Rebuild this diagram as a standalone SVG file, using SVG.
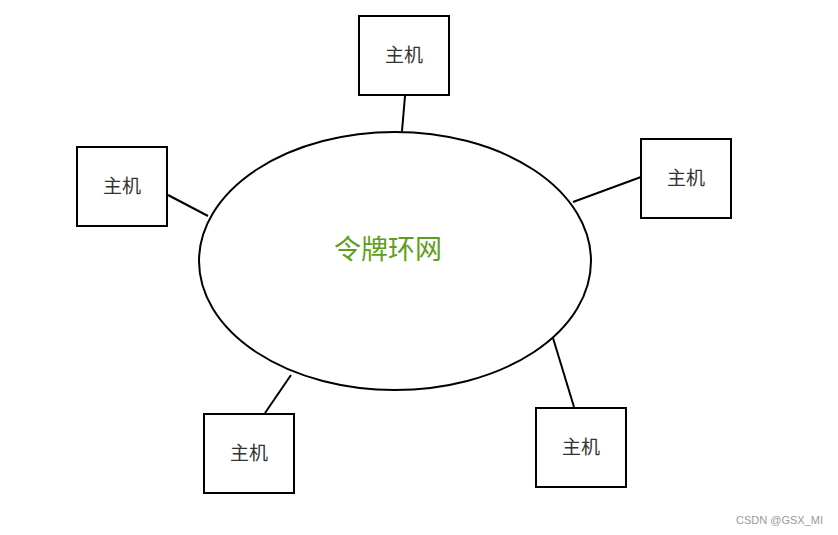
<svg xmlns="http://www.w3.org/2000/svg" width="838" height="535" viewBox="0 0 838 535">
<style>
.box{fill:#fff;stroke:#000;stroke-width:2}
.lbl{font-family:"Noto Sans CJK SC","Liberation Sans",sans-serif;font-size:19px;fill:#333;text-anchor:middle;dominant-baseline:central}
.con line{stroke:#000;stroke-width:2}
</style>
<rect width="838" height="535" fill="#fff"/>
<g id="ring">
<ellipse cx="395" cy="261" rx="196" ry="129" fill="#fff" stroke="#000" stroke-width="2"/>
<text x="388" y="247" font-family="'Noto Sans CJK SC','Liberation Sans',sans-serif" font-size="27" fill="#5f9e1a" text-anchor="middle" dominant-baseline="central">令牌环网</text>
</g>
<g id="connectors" class="con">
<line x1="405" y1="96" x2="402" y2="131"/>
<line x1="168" y1="195" x2="208" y2="216"/>
<line x1="573" y1="202" x2="641" y2="177"/>
<line x1="265" y1="413" x2="291" y2="375"/>
<line x1="574" y1="407" x2="553" y2="338"/>
</g>
<g id="host-top"><rect class="box" x="359" y="16" width="90" height="79"/><text class="lbl" x="404" y="53">主机</text></g>
<g id="host-left"><rect class="box" x="77" y="147" width="90" height="79"/><text class="lbl" x="122" y="184">主机</text></g>
<g id="host-right"><rect class="box" x="641" y="139" width="90" height="79"/><text class="lbl" x="686" y="176">主机</text></g>
<g id="host-bl"><rect class="box" x="204" y="414" width="90" height="79"/><text class="lbl" x="249" y="451">主机</text></g>
<g id="host-br"><rect class="box" x="536" y="408" width="90" height="79"/><text class="lbl" x="581" y="445">主机</text></g>
<text x="823" y="524" font-family="'Liberation Sans',sans-serif" font-size="11" fill="#999" text-anchor="end">CSDN @GSX_MI</text>
</svg>
